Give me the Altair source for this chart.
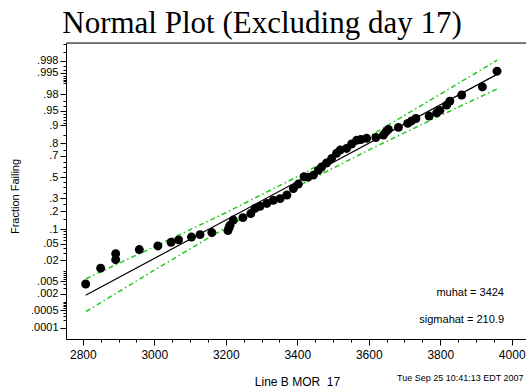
import altair as alt
import pandas as pd
from statistics import NormalDist

nd = NormalDist()

mor = [2808, 2850, 2892, 2892, 2958, 3010, 3047, 3068, 3104, 3128, 3161,
       3206, 3209, 3212, 3221, 3248, 3270, 3282, 3296, 3315, 3333, 3352, 3371,
       3389, 3403, 3419, 3430, 3445, 3459, 3468, 3482, 3496, 3510, 3520, 3538,
       3552, 3566, 3578, 3594, 3620, 3641, 3648, 3655, 3683, 3709, 3720,
       3732, 3769, 3790, 3799, 3818, 3827, 3860, 3918, 3959]
zscore = [-2.64, -2.25, -2.04, -1.89, -1.79, -1.70, -1.61, -1.55, -1.48, -1.42, -1.37,
          -1.32, -1.25, -1.19, -1.06, -1.00, -0.90, -0.77, -0.72, -0.65, -0.57, -0.53, -0.44,
          -0.28, -0.17, 0.01, 0.00, 0.05, 0.17, 0.25, 0.35, 0.46, 0.59, 0.67, 0.71,
          0.82, 0.91, 0.93, 0.96, 0.98, 1.04, 1.12, 1.18, 1.23, 1.33, 1.39,
          1.45, 1.51, 1.59, 1.65, 1.78, 1.88, 2.03, 2.23, 2.62]

fit_x = [2808, 3959]
fit_z = [-2.92, 2.54]

band_x = [2809, 3000, 3200, 3424, 3600, 3800, 3959]
band_upper = [-2.51, -1.72, -0.88, 0.12, 1.00, 2.05, 2.89]
band_lower = [-3.32, -2.30, -1.25, -0.12, 0.67, 1.52, 2.18]

major_labels = [".0001", ".0005", ".002", ".005", ".02", ".05", ".1", ".2", ".3",
                ".5", ".7", ".8", ".9", ".95", ".98", ".995", ".998"]
minor_probs = [0.0002, 0.0003, 0.0004, 0.0006, 0.0007, 0.0008, 0.0009, 0.001,
               0.003, 0.004, 0.006, 0.007, 0.008, 0.009, 0.01, 0.03, 0.04,
               0.06, 0.07, 0.08, 0.09, 0.15, 0.25, 0.35, 0.4, 0.45,
               0.55, 0.6, 0.65, 0.75, 0.85, 0.91, 0.92, 0.93, 0.94, 0.96, 0.97,
               0.99, 0.991, 0.992, 0.993, 0.994, 0.996, 0.997, 0.999, 0.9995]

x_ticks = list(range(2800, 4001, 50))

title_text = "Normal Plot (Excluding day 17)"
x_title = "Line B MOR\u00a0 17"
y_title = "Fraction Failing"
muhat_text = "muhat = 3424"
sigmahat_text = "sigmahat = 210.9"
date_text = "Tue Sep 25 10:41:13 EDT 2007"

major_z = [nd.inv_cdf(float(s)) for s in major_labels]
minor_z = [nd.inv_cdf(p) for p in minor_probs]
y_values = sorted(major_z + minor_z)

label_expr = "".join(
    f"abs(datum.value - ({z:.6f})) < 0.0005 ? '{lab}' : " for z, lab in zip(major_z, major_labels)
) + "''"
major_test = " || ".join(f"abs(datum.value - ({z:.6f})) < 0.0005" for z in major_z)

FONT = "Liberation Sans"
W, H = 460, 296

pts = pd.DataFrame({"mor": mor, "z": zscore})
fit = pd.DataFrame({"mor": fit_x, "z": fit_z})
band = pd.concat([
    pd.DataFrame({"mor": band_x, "z": band_upper, "side": "upper"}),
    pd.DataFrame({"mor": band_x, "z": band_lower, "side": "lower"}),
])

xscale = alt.Scale(domain=[2753, 4040], nice=False, zero=False)
yscale = alt.Scale(domain=[-4.0, 3.316], nice=False, zero=False)

xaxis = alt.Axis(
    values=x_ticks, format="d",
    labelExpr="datum.value % 200 == 0 ? datum.label : ''",
    tickSize={"condition": {"test": "datum.value % 200 == 0", "value": 6}, "value": 3},
    tickColor="black", domainColor="black", grid=False,
    labelFont=FONT, labelFontSize=12, labelColor="black", labelPadding=4,
    labelOverlap=False, labelFlush=False,
    title=x_title, titleFont=FONT, titleFontSize=12, titleFontWeight="normal",
    titleColor="black", titleX=231, titleY=42, titleBaseline="middle", titleAlign="center",
)
yaxis = alt.Axis(
    values=y_values, labelExpr=label_expr,
    tickSize={"condition": {"test": major_test, "value": 6}, "value": 3},
    tickColor="black", domainColor="black", grid=False,
    labelFont=FONT, labelFontSize=11, labelColor="black", labelPadding=2,
    labelOverlap=False, labelFlush=False,
    title=y_title, titleFont=FONT, titleFontSize=11, titleFontWeight="normal",
    titleColor="black", titleX=-51, titleY=153, titleBaseline="middle", titleAlign="center",
)

X = alt.X("mor:Q", scale=xscale, axis=xaxis)
Y = alt.Y("z:Q", scale=yscale, axis=yaxis)

points = alt.Chart(pts).mark_circle(size=80, color="black", opacity=1).encode(x=X, y=Y)

bands = alt.Chart(band).mark_line(color="#1fcc1f", strokeWidth=1.5, strokeDash=[5, 3, 1.5, 3]).encode(
    x=X, y=Y, detail="side:N"
)

fitline = alt.Chart(fit).mark_line(color="black", strokeWidth=1.2).encode(x=X, y=Y)

top_line = alt.Chart(pd.DataFrame({"a": [0]})).mark_rule(color="black", strokeWidth=1).encode(
    x=alt.value(0), x2=alt.value(W + 10), y=alt.value(0)
)

ann_text = alt.Chart(pd.DataFrame({"t": [muhat_text]})).mark_text(
    align="right", baseline="middle", font=FONT, fontSize=11, color="black"
).encode(x=alt.value(438), y=alt.value(250), text="t:N")
sig_text = alt.Chart(pd.DataFrame({"t": [sigmahat_text]})).mark_text(
    align="right", baseline="middle", font=FONT, fontSize=11, color="black"
).encode(x=alt.value(438), y=alt.value(277), text="t:N")
date = alt.Chart(pd.DataFrame({"t": [date_text]})).mark_text(
    align="left", baseline="middle", font=FONT, fontSize=9, color="black"
).encode(x=alt.value(331), y=alt.value(335), text="t:N")

chart = alt.layer(bands, fitline, points, top_line, ann_text, sig_text, date).properties(
    width=W, height=H,
    title=alt.TitleParams(
        title_text, font="Liberation Serif", fontSize=31,
        fontWeight="normal", color="black", anchor="middle", dx=-34, offset=-2,
    ),
    padding={"left": 66, "top": 43, "right": 0, "bottom": 50},
    autosize=alt.AutoSizeParams(type="none"),
).configure_view(stroke=None).configure(background="white")

chart.save("out.html", embed_options={"renderer": "svg", "actions": False})
